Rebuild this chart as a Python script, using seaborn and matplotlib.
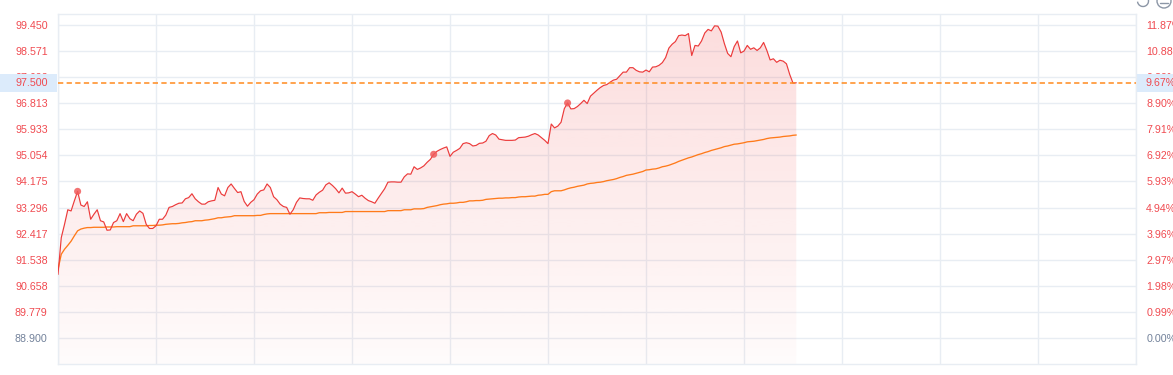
import numpy as np
import pandas as pd
import matplotlib
matplotlib.use("Agg")
import matplotlib.pyplot as plt
import seaborn as sns
from matplotlib.patches import Rectangle, Ellipse, Arc
from matplotlib.lines import Line2D
from matplotlib.transforms import blended_transform_factory

# ---------------- data ----------------
price = [
    91.04, 92.28, 92.73, 93.22, 93.18, 93.52, 93.84, 93.38, 93.33, 93.49,
    92.90, 93.07, 93.22, 92.85, 92.81, 92.53, 92.54, 92.79, 92.85, 93.09,
    92.82, 93.09, 92.92, 92.85, 93.07, 93.18, 93.10, 92.73, 92.59, 92.59,
    92.68, 92.90, 92.90, 93.04, 93.30, 93.33, 93.39, 93.44, 93.45, 93.59,
    93.63, 93.76, 93.59, 93.49, 93.41, 93.41, 93.49, 93.52, 93.54, 93.97,
    93.75, 93.69, 93.97, 94.09, 93.94, 93.80, 93.83, 93.50, 93.34, 93.47,
    93.56, 93.75, 93.86, 93.89, 94.09, 93.97, 93.66, 93.56, 93.41, 93.33,
    93.30, 93.07, 93.22, 93.47, 93.62, 93.60, 93.59, 93.59, 93.54, 93.72,
    93.81, 93.88, 94.06, 94.13, 94.04, 93.93, 93.79, 93.95, 93.78, 93.79,
    93.83, 93.75, 93.66, 93.71, 93.61, 93.53, 93.49, 93.44, 93.61, 93.77,
    93.93, 94.15, 94.16, 94.16, 94.15, 94.15, 94.33, 94.43, 94.42, 94.67,
    94.58, 94.63, 94.70, 94.82, 94.92, 95.09, 95.19, 95.25, 95.30, 95.34,
    95.02, 95.16, 95.22, 95.29, 95.45, 95.48, 95.45, 95.37, 95.39, 95.46,
    95.47, 95.53, 95.72, 95.79, 95.74, 95.60, 95.58, 95.56, 95.56, 95.56,
    95.57, 95.65, 95.66, 95.67, 95.70, 95.75, 95.79, 95.74, 95.65, 95.56,
    95.45, 96.11, 95.98, 96.04, 96.17, 96.63, 96.82, 96.62, 96.63, 96.70,
    96.80, 96.91, 96.80, 97.05, 97.15, 97.25, 97.34, 97.41, 97.44, 97.52,
    97.59, 97.62, 97.74, 97.86, 97.86, 98.01, 98.01, 97.92, 97.87, 97.86,
    97.93, 97.87, 98.03, 98.04, 98.09, 98.18, 98.35, 98.67, 98.80, 98.89,
    99.09, 99.11, 99.09, 99.16, 98.42, 98.76, 98.74, 98.91, 99.18, 99.30,
    99.25, 99.42, 99.41, 99.21, 98.82, 98.49, 98.38, 98.72, 98.91, 98.51,
    98.57, 98.76, 98.63, 98.68, 98.59, 98.68, 98.86, 98.59, 98.27, 98.31,
    98.19, 98.26, 98.23, 98.14, 97.78, 97.49, 97.50,
]

avg_price = [
    91.21, 91.72, 91.89, 92.02, 92.16, 92.34, 92.51, 92.57, 92.60, 92.62,
    92.62, 92.63, 92.63, 92.63, 92.63, 92.64, 92.64, 92.64, 92.65, 92.65,
    92.65, 92.65, 92.65, 92.68, 92.68, 92.68, 92.68, 92.68, 92.69, 92.69,
    92.70, 92.70, 92.71, 92.73, 92.74, 92.75, 92.75, 92.76, 92.78, 92.79,
    92.81, 92.82, 92.85, 92.85, 92.85, 92.87, 92.88, 92.90, 92.92, 92.95,
    92.95, 92.97, 92.98, 92.99, 93.02, 93.02, 93.02, 93.02, 93.02, 93.02,
    93.02, 93.03, 93.03, 93.06, 93.08, 93.09, 93.09, 93.09, 93.09, 93.09,
    93.09, 93.09, 93.09, 93.09, 93.09, 93.09, 93.09, 93.09, 93.09, 93.09,
    93.12, 93.12, 93.12, 93.13, 93.13, 93.13, 93.13, 93.13, 93.16, 93.16,
    93.16, 93.16, 93.16, 93.16, 93.16, 93.16, 93.16, 93.16, 93.16, 93.16,
    93.16, 93.19, 93.19, 93.19, 93.19, 93.19, 93.22, 93.22, 93.22, 93.25,
    93.25, 93.25, 93.26, 93.30, 93.32, 93.34, 93.36, 93.39, 93.41, 93.42,
    93.44, 93.44, 93.45, 93.47, 93.47, 93.49, 93.52, 93.52, 93.53, 93.53,
    93.54, 93.57, 93.58, 93.59, 93.60, 93.61, 93.61, 93.62, 93.62, 93.63,
    93.63, 93.65, 93.66, 93.66, 93.67, 93.68, 93.68, 93.71, 93.72, 93.74,
    93.74, 93.83, 93.86, 93.86, 93.86, 93.89, 93.93, 93.96, 93.98, 94.01,
    94.03, 94.05, 94.09, 94.11, 94.12, 94.14, 94.15, 94.17, 94.20, 94.22,
    94.24, 94.27, 94.31, 94.34, 94.38, 94.40, 94.42, 94.45, 94.48, 94.51,
    94.56, 94.57, 94.59, 94.60, 94.63, 94.67, 94.69, 94.72, 94.76, 94.80,
    94.85, 94.89, 94.93, 94.97, 95.00, 95.04, 95.08, 95.11, 95.15, 95.18,
    95.22, 95.25, 95.28, 95.31, 95.35, 95.37, 95.40, 95.43, 95.44, 95.46,
    95.48, 95.51, 95.52, 95.53, 95.55, 95.57, 95.59, 95.62, 95.64, 95.65,
    95.66, 95.67, 95.69, 95.70, 95.71, 95.73, 95.74,
]

signal_minutes = [6, 115, 156]

left_labels = ["88.900", "89.779", "90.658", "91.538", "92.417", "93.296", "94.175",
               "95.054", "95.933", "96.813", "97.692", "98.571", "99.450"]
right_labels = ["0.00%", "0.99%", "1.98%", "2.97%", "3.96%", "4.94%", "5.93%",
                "6.92%", "7.91%", "8.90%", "9.89%", "10.88%", "11.87%"]
last_price = 97.500
last_pct_label = "9.67%"
last_price_label = "97.500"
session_minutes = 330
grid_step_minutes = 30

# ---------------- style ----------------
RED = "#ec3b3b"
ORANGE = "#ff7a1a"
GRID = "#e8edf3"
LABEL_RED = "#f04a50"
LABEL_GRAY = "#72819a"
BADGE = "#dcebfb"
ICON = "#8c96a6"

sns.set_theme(style="white")
plt.rcParams['font.family'] = ['Liberation Sans', 'DejaVu Sans']
plt.rcParams['lines.scale_dashes'] = False

W, H = 1173, 375
fig = plt.figure(figsize=(W / 100, H / 100), dpi=100)
fig.patch.set_facecolor("white")
ax = fig.add_axes([58 / W, 1 - 364 / H, (1136 - 58) / W, 350 / H])

df = pd.DataFrame({"minute": np.arange(len(price)), "price": price, "avg": avg_price})

tick_vals = [float(v) for v in left_labels]
step = tick_vals[1] - tick_vals[0]
ymin = tick_vals[0] - step
ymax = tick_vals[-1] + 0.42 * step
ax.set_ylim(ymin, ymax)
ax.set_xlim(0, session_minutes)

# gradient fill under price line
poly = ax.fill_between(df["minute"], df["price"], ymin, facecolor="none", edgecolor="none")
grad = np.linspace(0.19, 0.02, 256).reshape(-1, 1)
rgba = np.zeros((256, 1, 4))
rgba[..., 0] = 240 / 255
rgba[..., 1] = 70 / 255
rgba[..., 2] = 70 / 255
rgba[..., 3] = grad
img = ax.imshow(rgba, extent=[0, session_minutes, ymin, ymax], aspect="auto",
                origin="upper", zorder=1, interpolation="bilinear")
path = poly.get_paths()[0]
img.set_clip_path(path, transform=ax.transData)

sns.lineplot(data=df, x="minute", y="avg", ax=ax, color=ORANGE, lw=0.95, zorder=3)
sns.lineplot(data=df, x="minute", y="price", ax=ax, color=RED, lw=0.85, zorder=4)

sig = df.iloc[signal_minutes]
ax.scatter(sig["minute"], sig["price"], s=26, color="#f05a5a", alpha=0.85,
           edgecolors="none", zorder=5)

ax.axhline(last_price, color="#ff8a1e", lw=1.1, ls=(0, (3.8, 2.4)), zorder=6)

# grid / frame
ax.set_xticks(np.arange(0, session_minutes + 1, grid_step_minutes))
ax.set_xticklabels([])
ax.set_yticks(tick_vals)
ax.set_yticklabels(left_labels)
ax.grid(True, color=GRID, lw=1.0, zorder=0)
ax.set_axisbelow(True)
for s in ax.spines.values():
    s.set_color(GRID)
    s.set_linewidth(1.0)
ax.tick_params(axis="x", length=8, color=GRID, width=1.0, direction="out")
ax.tick_params(axis="y", length=0, pad=7.4, labelsize=7.7)
ax.set_xlabel("")
ax.set_ylabel("")
for i, t in enumerate(ax.get_yticklabels()):
    t.set_color(LABEL_GRAY if i == 0 else LABEL_RED)

ax2 = ax.twinx()
ax2.set_ylim(ymin, ymax)
ax2.set_yticks(tick_vals)
ax2.set_yticklabels(right_labels)
ax2.tick_params(axis="y", length=0, pad=7.4, labelsize=7.7)
for s in ax2.spines.values():
    s.set_visible(False)
ax2.grid(False)
for i, t in enumerate(ax2.get_yticklabels()):
    t.set_color(LABEL_GRAY if i == 0 else LABEL_RED)

# badges for last price
bh = 18 / 29.63
tr = blended_transform_factory(fig.transFigure, ax.transData)
fig.patches.append(Rectangle((0, last_price - bh / 2), 57 / W, bh, transform=tr,
                             facecolor=BADGE, edgecolor="none", zorder=2))
fig.patches.append(Rectangle((1137 / W, last_price - bh / 2), (W - 1137) / W, bh,
                             transform=tr, facecolor=BADGE, edgecolor="none", zorder=2))
fig.text(47.7 / W, 0, last_price_label, transform=tr, ha="right", va="center",
         color=LABEL_RED, fontsize=7.7, zorder=3).set_y(last_price)
fig.text(1146 / W, 0, last_pct_label, transform=tr, ha="left", va="center",
         color=LABEL_RED, fontsize=7.7, zorder=3).set_y(last_price)

# small toolbar icons at the top-right corner (partly cut off)
fig.patches.append(Arc((1143 / W, 1 - 1 / H), 11 / W, 11 / H, theta1=200, theta2=70,
                       transform=fig.transFigure, color=ICON, lw=1.0))
fig.patches.append(Ellipse((1164 / W, 1 - 1 / H), 14 / W, 14 / H, transform=fig.transFigure,
                           facecolor="none", edgecolor=ICON, lw=1.0))
fig.lines.append(Line2D([1160 / W, 1168 / W], [1 - 3 / H, 1 - 3 / H],
                        transform=fig.transFigure, color=ICON, lw=1.0))

fig.savefig("out.png", dpi=100)
